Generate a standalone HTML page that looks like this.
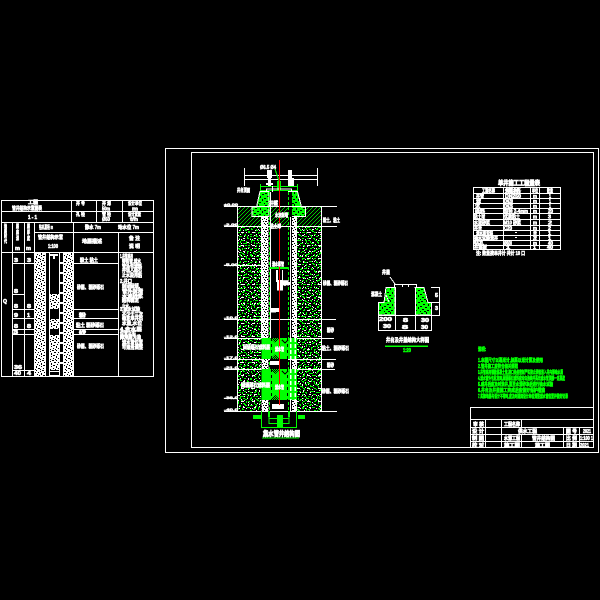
<!DOCTYPE html>
<html><head><meta charset="utf-8"><style>
html,body{margin:0;padding:0;background:#000;width:600px;height:600px;overflow:hidden}
svg{display:block}
text{font-family:"Liberation Sans","Noto Sans CJK SC",sans-serif;font-weight:700;font-size:5px;fill:#fff;stroke:#fff;stroke-width:.6}
.g text,text.g{fill:#0f0;stroke:#0f0;stroke-width:.6}
.lv text{font-size:4px;stroke-width:.5}
.l{stroke:#fff;stroke-width:1;fill:none}
.n{stroke:#0f0;stroke-width:1;fill:none}
</style></head><body>
<svg width="600" height="600" viewBox="0 0 600 600" xmlns="http://www.w3.org/2000/svg" shape-rendering="crispEdges">
<defs>
<pattern id="soil" width="16" height="16" patternUnits="userSpaceOnUse">
<rect width="16" height="16" fill="#000"/>
<path fill="#0f0" d="M1 0h2v1H1zM6 1h1v2H6zM11 0h2v1h-2zM3 3h2v1H3zM9 3h1v1H9zM14 2h1v2h-1zM0 5h1v2H0zM5 5h2v1H5zM12 5h1v1h-1zM2 8h1v2H2zM8 7h2v1H8zM14 8h2v1h-2zM5 10h1v1H5zM10 10h2v1h-2zM0 12h2v1H0zM7 12h1v2H7zM13 12h1v1h-1zM3 14h2v1H3zM10 14h1v2h-1zM15 14h1v1h-1z"/>
<path fill="#fff" d="M4 0h1v1H4zM14 0h1v1h-1zM8 2h1v1H8zM1 3h1v1H1zM11 4h1v1h-1zM3 6h1v1H3zM8 5h1v1H8zM15 6h1v1h-1zM6 8h1v1H6zM12 8h1v1h-1zM0 10h1v1H0zM8 11h1v1H8zM4 12h1v1H4zM14 11h1v1h-1zM12 15h1v1h-1zM1 15h1v1H1z"/>
</pattern>
<pattern id="soil2" width="11" height="13" patternUnits="userSpaceOnUse">
<path fill="#0f0" d="M2 1h2v1H2zM8 2h2v1H8zM5 4h2v1H5zM0 6h2v1H0zM9 7h1v2H9zM3 9h2v1H3zM6 11h2v1H6z"/>
<path fill="#fff" d="M6 1h1v1H6zM1 4h2v1H1zM8 5h1v1H8zM5 8h1v1H5zM0 11h2v1H0zM10 11h1v1h-1z"/>
</pattern>
<pattern id="conc" width="12" height="12" patternUnits="userSpaceOnUse">
<rect width="12" height="12" fill="#0f0"/>
<path fill="#000" d="M1 1h2v1H1zM6 0h1v2H6zM10 2h2v1h-2zM3 4h2v1H3zM8 4h1v2H8zM0 6h2v1H0zM5 7h2v1H5zM10 7h1v2h-1zM2 9h2v1H2zM7 10h2v1H7zM0 11h1v1H0zM4 11h2v1H4z"/>
</pattern>
<pattern id="grav" width="8" height="8" patternUnits="userSpaceOnUse">
<rect width="8" height="8" fill="#fff"/>
<path fill="#000" d="M1 0h1v1H1zM4 1h2v1H4zM0 2h1v1H0zM2 3h1v1H2zM6 3h1v1H6zM4 4h1v1H4zM1 5h2v1H1zM7 5h1v1H7zM5 6h1v1H5zM0 7h1v1H0zM3 7h1v1H3z"/>
</pattern>
<pattern id="tnoise" width="10" height="10" patternUnits="userSpaceOnUse">
<rect width="10" height="10" fill="#fff"/>
<path fill="#000" d="M2 0h2v1H2zM6 0h1v1H6zM0 1h1v1H0zM4 2h2v1H4zM8 2h1v1H8zM1 3h1v2H1zM7 4h1v1H7zM3 5h2v1H3zM9 5h1v1H9zM1 6h1v1H1zM6 6h1v2H6zM3 8h1v1H3zM8 8h2v1H8zM0 9h1v1H0zM5 9h1v1H5z"/>
</pattern>
<pattern id="hatch" width="4" height="4" patternUnits="userSpaceOnUse">
<rect width="4" height="4" fill="#000"/>
<path fill="#0c0" d="M3 0h1v1H3zM2 1h1v1H2zM1 2h1v1H1zM0 3h1v1H0z"/>
</pattern>
<pattern id="check" width="2" height="2" patternUnits="userSpaceOnUse">
<rect width="2" height="2" fill="#0f0"/><rect width="1" height="1" fill="#000"/><rect x="1" y="1" width="1" height="1" fill="#000"/>
</pattern>
</defs>
<rect width="600" height="600" fill="#000"/>

<!-- frames -->
<rect class="l" x="165.5" y="148.5" width="433" height="304"/>
<rect class="l" x="191.5" y="152.5" width="402" height="295"/>

<!-- left table -->
<rect x="34" y="252" width="11" height="124" fill="url(#tnoise)"/>
<rect x="63" y="252" width="10" height="124" fill="url(#tnoise)"/>
<rect x="49" y="294" width="10" height="15" fill="url(#tnoise)"/>
<rect x="49" y="319" width="10" height="10" fill="url(#tnoise)"/>
<rect x="49" y="335" width="10" height="35" fill="url(#tnoise)"/>
<rect class="l" x="1.5" y="200.5" width="152" height="176"/>
<path class="l" d="M1.5 211.5H153.500M1.5 222.5H153.500M1.5 252.5H153.500M73.5 232.5H153.500M34.5 232.500H73.500M71.5 200.5V222.500M96.5 200.5V222.500M122.5 200.5V222.500M12.5 222.5V376.500M24.5 222.5V376.500M34.5 222.5V376.500M73.5 222.5V376.500M118.5 232.5V376.500M12.5 263.5H34.500M12.5 294.5H24.500M12.5 309.5H34.500M12.5 318.5H34.500M12.5 329.5H34.500M12.5 334.5H34.500M12.5 370.5H34.500M73.5 263.5H118.500M73.5 309.5H118.500M73.5 318.5H118.500M73.5 329.5H118.500M73.5 334.5H118.500M45.5 252.5V376.500M49.5 252.5V376.500M59.5 252.5V376.500M63.5 252.5V376.500"/>
<g>
<text x="28" y="204" textLength="10" lengthAdjust="spacingAndGlyphs">工程</text>
<text x="12" y="210" textLength="30" lengthAdjust="spacingAndGlyphs">管井结构示意图表</text>
<text x="28" y="219" textLength="9" lengthAdjust="spacingAndGlyphs">1 - 1</text>
<text x="76" y="205" textLength="9" lengthAdjust="spacingAndGlyphs">井 号</text>
<text x="102" y="205" textLength="9" lengthAdjust="spacingAndGlyphs">井 深</text>
<text x="102" y="210.500" textLength="8" lengthAdjust="spacingAndGlyphs">50m</text>
<text x="128" y="205" textLength="14" lengthAdjust="spacingAndGlyphs">设计单位</text>
<text x="132" y="210.500" textLength="6" lengthAdjust="spacingAndGlyphs">m</text>
<text x="76" y="216" textLength="9" lengthAdjust="spacingAndGlyphs">孔 径</text>
<text x="102" y="216" textLength="9" lengthAdjust="spacingAndGlyphs">管 径</text>
<text x="102" y="221" textLength="8" lengthAdjust="spacingAndGlyphs">Ø50</text>
<text x="128" y="216" textLength="13" lengthAdjust="spacingAndGlyphs">设计流量</text>
<text x="130" y="221" textLength="8" lengthAdjust="spacingAndGlyphs">t/h</text>
<text x="39" y="229" textLength="14" lengthAdjust="spacingAndGlyphs">钻孔直径 m</text>
<text x="38" y="239" textLength="25" lengthAdjust="spacingAndGlyphs">管井结构示意</text>
<text x="48" y="248" textLength="10" lengthAdjust="spacingAndGlyphs">1:100</text>
<text x="85" y="229" textLength="16" lengthAdjust="spacingAndGlyphs">静水 7m</text>
<text x="118" y="229" textLength="21" lengthAdjust="spacingAndGlyphs">动水位 7m</text>
<text x="82" y="243" textLength="20" lengthAdjust="spacingAndGlyphs">地层描述</text>
<text x="129" y="240" textLength="11" lengthAdjust="spacingAndGlyphs">备 注</text>
<text x="129" y="248" textLength="11" lengthAdjust="spacingAndGlyphs">说 明</text>
<text x="4" y="228" textLength="3" lengthAdjust="spacingAndGlyphs">地</text><text x="4" y="233" textLength="3" lengthAdjust="spacingAndGlyphs">层</text><text x="4" y="238" textLength="3" lengthAdjust="spacingAndGlyphs">时</text><text x="4" y="243" textLength="3" lengthAdjust="spacingAndGlyphs">代</text>
<text x="16" y="228" textLength="3" lengthAdjust="spacingAndGlyphs">层</text><text x="16" y="234" textLength="3" lengthAdjust="spacingAndGlyphs">底</text><text x="16" y="240" textLength="3" lengthAdjust="spacingAndGlyphs">深</text><text x="15" y="250" textLength="5" lengthAdjust="spacingAndGlyphs">m</text>
<text x="27" y="228" textLength="3" lengthAdjust="spacingAndGlyphs">层</text><text x="27" y="234" textLength="3" lengthAdjust="spacingAndGlyphs">厚</text><text x="27" y="240" textLength="3" lengthAdjust="spacingAndGlyphs">度</text><text x="26" y="250" textLength="5" lengthAdjust="spacingAndGlyphs">m</text>
<text x="3" y="303" textLength="4" lengthAdjust="spacingAndGlyphs">Q</text>
<text x="14" y="262" textLength="4" lengthAdjust="spacingAndGlyphs">3</text><text x="27" y="262" textLength="4" lengthAdjust="spacingAndGlyphs">3</text>
<text x="14" y="293" textLength="4" lengthAdjust="spacingAndGlyphs">8</text><text x="14" y="308" textLength="4" lengthAdjust="spacingAndGlyphs">8</text><text x="27" y="308" textLength="4" lengthAdjust="spacingAndGlyphs">8</text>
<text x="14" y="317" textLength="4" lengthAdjust="spacingAndGlyphs">9</text><text x="27" y="317" textLength="3" lengthAdjust="spacingAndGlyphs">1</text>
<text x="14" y="328" textLength="4" lengthAdjust="spacingAndGlyphs">8</text><text x="27" y="328" textLength="4" lengthAdjust="spacingAndGlyphs">8</text>
<text x="13" y="334" textLength="5" lengthAdjust="spacingAndGlyphs">3</text>
<text x="14" y="369" textLength="8" lengthAdjust="spacingAndGlyphs">36</text>
<text x="14" y="375" textLength="7" lengthAdjust="spacingAndGlyphs">40</text><text x="27" y="375" textLength="4" lengthAdjust="spacingAndGlyphs">4</text>
<text x="80" y="262" textLength="18" lengthAdjust="spacingAndGlyphs">粉土 粘土</text>
<text x="77" y="289" textLength="27" lengthAdjust="spacingAndGlyphs">砂层、粗砂砾石</text>
<text x="79" y="317" textLength="7" lengthAdjust="spacingAndGlyphs">粉</text>
<text x="76" y="327" textLength="28" lengthAdjust="spacingAndGlyphs">粘土 粗砂砾石</text>
<text x="79" y="334" textLength="7" lengthAdjust="spacingAndGlyphs">砂</text>
<text x="77" y="348" textLength="27" lengthAdjust="spacingAndGlyphs">砂层、粗砂砾石</text>
<text x="120" y="258" textLength="13" lengthAdjust="spacingAndGlyphs">1.井管采用</text>
<text x="122" y="263" textLength="19" lengthAdjust="spacingAndGlyphs">铸铁管,滤水</text>
<text x="122" y="268" textLength="20" lengthAdjust="spacingAndGlyphs">管外包滤料</text>
<text x="122" y="272" textLength="20" lengthAdjust="spacingAndGlyphs">并填入砾石</text>
<text x="122" y="277" textLength="20" lengthAdjust="spacingAndGlyphs">止水段用粘</text>
<text x="120" y="283" textLength="12" lengthAdjust="spacingAndGlyphs">2.井口</text>
<text x="122" y="288" textLength="18" lengthAdjust="spacingAndGlyphs">封闭回填,</text>
<text x="122" y="293" textLength="21" lengthAdjust="spacingAndGlyphs">管外封堵</text>
<text x="122" y="298" textLength="21" lengthAdjust="spacingAndGlyphs">水泥砂浆</text>
<text x="122" y="302" textLength="17" lengthAdjust="spacingAndGlyphs">结构稳定</text>
<text x="122" y="308" textLength="7" lengthAdjust="spacingAndGlyphs">止水</text>
<text x="120" y="311" textLength="20" lengthAdjust="spacingAndGlyphs">3.抽水试验</text>
<text x="122" y="316" textLength="21" lengthAdjust="spacingAndGlyphs">不少于三次</text>
<text x="122" y="320" textLength="21" lengthAdjust="spacingAndGlyphs">确定单井出</text>
<text x="122" y="325" textLength="20" lengthAdjust="spacingAndGlyphs">水量,水位</text>
<text x="120" y="331" textLength="22" lengthAdjust="spacingAndGlyphs">4.含水层</text>
<text x="120" y="335" textLength="16" lengthAdjust="spacingAndGlyphs">位置以实</text>
<text x="120" y="339" textLength="21" lengthAdjust="spacingAndGlyphs">际地层为准</text>
<text x="122" y="344" textLength="21" lengthAdjust="spacingAndGlyphs">滤水管位置</text>
<text x="122" y="349" textLength="21" lengthAdjust="spacingAndGlyphs">可适当调整</text>
</g>
<!-- left table well inner -->
<rect x="50" y="254" width="8" height="2" fill="#fff"/><rect x="53" y="256" width="2" height="3" fill="#fff"/>
<path d="M60 262h3v2h-3zM60 272h3v2h-3zM60 282h3v2h-3zM60 292h3v2h-3zM60 302h3v2h-3zM60 312h3v2h-3zM60 322h3v2h-3zM60 332h3v2h-3zM60 342h3v2h-3zM60 352h3v2h-3zM60 362h3v2h-3z" fill="#fff"/>
<rect x="49.500" y="371.500" width="10" height="4" fill="#000" stroke="#fff"/>

<!-- MAIN WELL -->
<rect x="238" y="207" width="83" height="19" fill="url(#hatch)"/>
<rect x="238" y="227" width="23" height="184" fill="url(#soil)"/>
<rect x="297" y="227" width="24" height="184" fill="url(#soil)"/>
<rect x="238" y="227" width="23" height="184" fill="url(#soil2)"/>
<rect x="297" y="227" width="24" height="184" fill="url(#soil2)"/>
<path d="M260 191.500H269V216.500H252V207H256.500Z" fill="url(#conc)" stroke="#fff"/>
<path d="M297.500 191.500H288.500V216.500H305.500V207H301.500Z" fill="url(#conc)" stroke="#fff"/>
<rect x="261.500" y="217" width="7" height="194" fill="url(#grav)"/>
<rect x="292" y="217" width="5" height="194" fill="url(#grav)"/>
<rect x="288" y="192" width="4" height="219" fill="#000"/>
<path d="M269.500 192V411M288.500 192V411" stroke="#0f0" stroke-dasharray="3 2"/>
<path d="M290.500 217V411M296.500 217V411M261.500 217V338M270.500 192V338" class="l"/>
<path d="M237.500 207V411M321.500 207V411M224 206.500H337M224 226.500H337M224 265.500H261M224 319.500H336M224 338.500H334M224 359.500H336M224 369.500H335M224 398.500H238M224 411.500H337" class="l"/>
<path class="l" d="M244.500 168V186M317.500 168V186M244 175.500H317M244 179.500H317"/>
<rect x="267" y="170" width="5" height="8" fill="#fff"/><rect x="268" y="178" width="3" height="8" fill="#fff"/>
<rect x="288" y="170" width="4" height="8" fill="#fff"/><rect x="288" y="178" width="6" height="8" fill="#fff"/>
<path class="n" d="M260.500 184V191M297.500 184V191M260.500 186.500H297.500M260.500 190.500H297.500M275 169L280 184"/>
<rect x="277" y="181" width="4" height="10" fill="#0f0"/>
<path class="l" d="M266.500 191.500V189H291.500V191.500M272.500 186V192"/>
<rect x="266" y="183" width="7" height="2" fill="#fff"/>
<rect x="269" y="267" width="20" height="2" fill="#0f0"/>
<rect x="276" y="270" width="2" height="12" fill="#fff"/>
<rect x="277" y="280" width="5" height="10" fill="#fff"/>
<path class="l" d="M277.500 270V290H282.500V270"/>
<rect x="281" y="282" width="10" height="3" fill="#fff"/>
<rect x="270" y="308" width="9" height="4" fill="#fff"/>
<path class="l" d="M270.500 312H276"/>
<rect x="261.500" y="338" width="35.500" height="21" fill="#0f0"/>
<rect x="261.500" y="369" width="35.500" height="31" fill="#0f0"/>
<rect x="270" y="359" width="18" height="10" fill="#000"/>
<path d="M270 338h10l-5 5zM270 369h10l-5 5z" fill="url(#check)"/>
<path d="M270 359h10l-5-5zM270 400h10l-5-5z" fill="url(#check)"/>
<path d="M282 340l3 3 3-3M282 371l3 3 3-3" stroke="#000" fill="none"/>
<path d="M271.500 338V359M271.500 369V400M287.500 338V359M287.500 369V400" stroke="#000" stroke-dasharray="3 3"/>
<path d="M290.500 338V359M290.500 369V400M295 338V359M295 369V400" stroke="#fff" stroke-width="1.500" stroke-dasharray="4 2"/>
<rect x="261.500" y="359" width="7" height="10" fill="url(#grav)"/>
<rect x="270" y="361" width="9" height="4" fill="#fff"/>
<path class="n" d="M261.500 411V428M296.500 411V428M261.500 427.500H296.500M269.500 418.500H289.500M269.500 423.500H289.500M269 412V424M289 412V424"/>
<rect x="253" y="415" width="8" height="4" fill="#0f0"/><rect x="298" y="415" width="7" height="4" fill="#0f0"/>
<rect x="277" y="415" width="6" height="13" fill="#0f0"/>
<rect x="268" y="411" width="2" height="6" fill="#0f0"/><rect x="288" y="411" width="2" height="6" fill="#0f0"/>
<rect x="272" y="404" width="12" height="5" fill="#fff"/>
<rect x="279" y="160" width="1" height="245" fill="#f00"/>
<g class="lv">
<text x="224" y="206" textLength="14" lengthAdjust="spacingAndGlyphs">±0.00</text>
<text x="224" y="226" textLength="14" lengthAdjust="spacingAndGlyphs">-2.00</text>
<text x="224" y="266" textLength="14" lengthAdjust="spacingAndGlyphs">-5.00</text>
<text x="224" y="319" textLength="14" lengthAdjust="spacingAndGlyphs">-10.0</text>
<text x="224" y="338" textLength="14" lengthAdjust="spacingAndGlyphs">-12.0</text>
<text x="224" y="359" textLength="14" lengthAdjust="spacingAndGlyphs">-17.0</text>
<text x="224" y="369" textLength="14" lengthAdjust="spacingAndGlyphs">-21.0</text>
<text x="224" y="399" textLength="14" lengthAdjust="spacingAndGlyphs">-36.0</text>
<text x="224" y="411" textLength="14" lengthAdjust="spacingAndGlyphs">-40.0</text>
</g>
<g>
<text x="260" y="169" textLength="16" lengthAdjust="spacingAndGlyphs">Ø6.5 Ø4</text>
<text x="237" y="192" textLength="13" lengthAdjust="spacingAndGlyphs">井台顶面</text>
<text x="323" y="222" textLength="17" lengthAdjust="spacingAndGlyphs">粉土、粘土</text>
<text x="323" y="285" textLength="25" lengthAdjust="spacingAndGlyphs">砂层、粗砂砾石</text>
<text x="327" y="332" textLength="7" lengthAdjust="spacingAndGlyphs">粉砂</text>
<text x="322" y="350" textLength="27" lengthAdjust="spacingAndGlyphs">粘土、粗砂砾石</text>
<text x="327" y="367" textLength="7" lengthAdjust="spacingAndGlyphs">粉砂</text>
<text x="322" y="393" textLength="27" lengthAdjust="spacingAndGlyphs">砂层、粗砂砾石</text>
<text x="269" y="205" textLength="9" lengthAdjust="spacingAndGlyphs">井壁</text>
<text x="275" y="217" textLength="13" lengthAdjust="spacingAndGlyphs">水泥封堵</text>
<text x="270" y="228" textLength="11" lengthAdjust="spacingAndGlyphs">粘土球</text>
<text x="272" y="266" textLength="12" lengthAdjust="spacingAndGlyphs">潜水泵管</text>
<text x="282" y="285" textLength="7" lengthAdjust="spacingAndGlyphs">泵</text>
<text x="243" y="349" textLength="27" lengthAdjust="spacingAndGlyphs">回填砾石滤料层</text>
<text x="241" y="387" textLength="29" lengthAdjust="spacingAndGlyphs">回填砾石滤料层</text>
<text x="275" y="351" textLength="9" lengthAdjust="spacingAndGlyphs">滤水管</text>
<text x="275" y="389" textLength="9" lengthAdjust="spacingAndGlyphs">滤水管</text>
<text x="263" y="436" style="font-size:7px;stroke-width:.8" textLength="37" lengthAdjust="spacingAndGlyphs">集水管井结构图</text>
</g>
<rect x="262" y="437.500" width="37" height="1" fill="#0f0"/>

<!-- small section -->
<path d="M386 287.500H395V315H378.500V302.500H384Z" fill="url(#conc)" stroke="#fff"/>
<path d="M424 287.500H415V315H431.500V302.500H428Z" fill="url(#conc)" stroke="#fff"/>
<rect x="396" y="288" width="19" height="27" fill="#000"/>
<path class="l" d="M395.500 287V315M415.500 287V315M394.500 287.500V284.500H416.500V287.500M402.500 284V287M408.500 284V287M378.500 315.500H432M378.500 315V331M395.500 315V331M415.500 315V331M431.500 315V331M378.500 330.500H432M431 287.500H440M431 302.500H440M431 315.500H440M439.500 287V316M390 277L395 284M386 295L389 302"/>
<g>
<text x="382" y="274" textLength="8" lengthAdjust="spacingAndGlyphs">井盖</text>
<text x="371" y="296" textLength="11" lengthAdjust="spacingAndGlyphs">混凝土</text>
<text x="379" y="321" textLength="13" lengthAdjust="spacingAndGlyphs">200</text>
<text x="383" y="328" textLength="8" lengthAdjust="spacingAndGlyphs">30</text>
<text x="403" y="322" textLength="5" lengthAdjust="spacingAndGlyphs">8</text>
<text x="402" y="329" textLength="6" lengthAdjust="spacingAndGlyphs">8</text>
<text x="421" y="322" textLength="8" lengthAdjust="spacingAndGlyphs">30</text>
<text x="421" y="329" textLength="7" lengthAdjust="spacingAndGlyphs">30</text>
<text x="435" y="297" textLength="3" lengthAdjust="spacingAndGlyphs">5</text>
<text x="435" y="310" textLength="3" lengthAdjust="spacingAndGlyphs">3</text>
<text x="386" y="342" style="font-size:5.500px" textLength="43" lengthAdjust="spacingAndGlyphs">井台及井盖结构大样图</text>
</g>
<rect x="385" y="345.500" width="43" height="1.500" fill="#0f0"/>
<text class="g" x="403" y="352" textLength="8" lengthAdjust="spacingAndGlyphs">1:20</text>

<!-- quantity table -->
<text x="498" y="185" style="font-size:6.500px;stroke-width:.8" textLength="42" lengthAdjust="spacingAndGlyphs">单井施工工程量表</text>
<rect class="l" x="473.500" y="187.500" width="87" height="62"/>
<path class="l" d="M503.500 187.500V249.500M530.500 187.500V249.500M539.500 187.500V249.500M473.500 193.500H560.500M473.500 198.500H560.500M473.500 203.500H560.500M473.500 208.500H560.500M473.500 213.500H560.500M473.500 219.500H560.500M473.500 225.500H560.500M473.500 230.500H560.500M473.500 235.500H560.500M473.500 240.500H560.500M473.500 245.500H560.500"/>
<g>
<text x="482" y="192.500" textLength="13" lengthAdjust="spacingAndGlyphs">工程名称</text>
<text x="505" y="192.500" textLength="16" lengthAdjust="spacingAndGlyphs">规格</text>
<text x="532" y="192.500" textLength="6" lengthAdjust="spacingAndGlyphs">单位</text>
<text x="547" y="192.500" textLength="6" lengthAdjust="spacingAndGlyphs">数量</text>
<text x="476" y="198" textLength="8" lengthAdjust="spacingAndGlyphs">井管</text><text x="505" y="198" textLength="16" lengthAdjust="spacingAndGlyphs">DN250</text><text x="533" y="198" textLength="4" lengthAdjust="spacingAndGlyphs">m</text><text x="549" y="198" textLength="2" lengthAdjust="spacingAndGlyphs">1</text>
<text x="476" y="203" textLength="5" lengthAdjust="spacingAndGlyphs">滤</text><text x="504" y="203" textLength="9" lengthAdjust="spacingAndGlyphs">DN20</text><text x="533" y="203" textLength="4" lengthAdjust="spacingAndGlyphs">m</text><text x="549" y="203" textLength="2" lengthAdjust="spacingAndGlyphs">1</text>
<text x="475" y="208" textLength="5" lengthAdjust="spacingAndGlyphs">沉</text><text x="504" y="208" textLength="9" lengthAdjust="spacingAndGlyphs">DN25</text><text x="533" y="208" textLength="4" lengthAdjust="spacingAndGlyphs">m</text><text x="549" y="208" textLength="2" lengthAdjust="spacingAndGlyphs">1</text>
<text x="475" y="213" textLength="10" lengthAdjust="spacingAndGlyphs">砾料</text><text x="504" y="213" textLength="24" lengthAdjust="spacingAndGlyphs">粒径 2-4mm</text><text x="533" y="213" textLength="4" lengthAdjust="spacingAndGlyphs">m</text><text x="548" y="213" textLength="5" lengthAdjust="spacingAndGlyphs">20</text>
<text x="474" y="218.500" textLength="11" lengthAdjust="spacingAndGlyphs">粘土球</text><text x="504" y="218.500" textLength="16" lengthAdjust="spacingAndGlyphs">优质粘土</text><text x="533" y="218.500" textLength="4" lengthAdjust="spacingAndGlyphs">m</text><text x="548" y="218.500" textLength="3" lengthAdjust="spacingAndGlyphs">3</text>
<text x="474" y="224.500" textLength="16" lengthAdjust="spacingAndGlyphs">水泥砂浆</text><text x="504" y="224.500" textLength="17" lengthAdjust="spacingAndGlyphs">M10 砂浆</text><text x="533" y="224.500" textLength="4" lengthAdjust="spacingAndGlyphs">m</text><text x="548" y="224.500" textLength="4" lengthAdjust="spacingAndGlyphs">2</text>
<text x="474" y="229.800" textLength="8" lengthAdjust="spacingAndGlyphs">井台</text><text x="504" y="229.800" textLength="8" lengthAdjust="spacingAndGlyphs">C20</text><text x="533" y="229.800" textLength="4" lengthAdjust="spacingAndGlyphs">m</text><text x="548" y="229.800" textLength="3" lengthAdjust="spacingAndGlyphs">2</text>
<text x="476" y="235" textLength="17" lengthAdjust="spacingAndGlyphs">潜水泵安装</text><rect x="515" y="232" width="2" height="1" fill="#fff"/><text x="533" y="235" textLength="4" lengthAdjust="spacingAndGlyphs">台</text><text x="548" y="235" textLength="3" lengthAdjust="spacingAndGlyphs">1</text>
<text x="474" y="240" textLength="24" lengthAdjust="spacingAndGlyphs">抽水试验洗井</text><rect x="515" y="237" width="2" height="1" fill="#fff"/><text x="533" y="240" textLength="4" lengthAdjust="spacingAndGlyphs">次</text><text x="548" y="240" textLength="3" lengthAdjust="spacingAndGlyphs">1</text>
<text x="474" y="245" textLength="10" lengthAdjust="spacingAndGlyphs">钻孔</text><text x="504" y="245" textLength="8" lengthAdjust="spacingAndGlyphs">Ø600</text><text x="533" y="245" textLength="4" lengthAdjust="spacingAndGlyphs">m</text><text x="548" y="245" textLength="5" lengthAdjust="spacingAndGlyphs">40</text>
<text x="474" y="249" textLength="13" lengthAdjust="spacingAndGlyphs">井盖板</text><text x="506" y="249" textLength="4" lengthAdjust="spacingAndGlyphs">1</text><text x="533" y="249" textLength="3" lengthAdjust="spacingAndGlyphs">1</text><text x="547" y="249" textLength="6" lengthAdjust="spacingAndGlyphs">40</text>
<text x="476" y="255" textLength="49" lengthAdjust="spacingAndGlyphs">注: 数量按单井计 共计 10 口</text>
</g>

<!-- green notes -->
<g class="g">
<text x="478" y="351" textLength="8" lengthAdjust="spacingAndGlyphs">说明:</text>
<text x="478" y="362" textLength="65" lengthAdjust="spacingAndGlyphs">1.本图尺寸以毫米计,标高以米计算及使用</text>
<text x="478" y="368" textLength="40" lengthAdjust="spacingAndGlyphs">2.管井施工应符合相关规范</text>
<text x="478" y="374" textLength="85" lengthAdjust="spacingAndGlyphs">3.井管采用钢筋混凝土管,接口处应密封严实防止砂粒进入井内影响水质</text>
<text x="478" y="380" textLength="87" lengthAdjust="spacingAndGlyphs">4.滤水管外包尼龙网,回填砾石滤料应均匀连续并高出滤水管顶部一定高度</text>
<text x="478" y="386" textLength="75" lengthAdjust="spacingAndGlyphs">5.成井后应及时洗井,直至水清砂净后进行抽水试验</text>
<text x="478" y="392" textLength="67" lengthAdjust="spacingAndGlyphs">6.井台及井盖施工完成后应做好保护措施</text>
<text x="478" y="398" textLength="90" lengthAdjust="spacingAndGlyphs">7.实际地层与设计不符时,应及时通知设计单位调整滤水管位置并做好记录</text>
</g>

<!-- title block -->
<rect class="l" x="470.500" y="407.500" width="123" height="40"/>
<path class="l" d="M470.500 419.500H593.500M470.500 427.500H593.500M470.500 434.500H593.500M470.500 441.500H593.500M485.500 419.500V447.500M501.500 419.500V447.500M521.500 419.500V427.500M521.500 434.500V447.500M563.500 427.500V447.500M579.500 427.500V447.500"/>
<g>
<text x="473" y="426" textLength="11" lengthAdjust="spacingAndGlyphs">审 核</text>
<text x="504" y="426" textLength="16" lengthAdjust="spacingAndGlyphs">工程名称</text>
<text x="472" y="433" textLength="12" lengthAdjust="spacingAndGlyphs">设 计</text>
<text x="518" y="433" textLength="19" lengthAdjust="spacingAndGlyphs">供水工程</text>
<text x="566" y="433" textLength="11" lengthAdjust="spacingAndGlyphs">图 号</text>
<text x="583" y="433" textLength="8" lengthAdjust="spacingAndGlyphs">2021</text>
<text x="472" y="440" textLength="12" lengthAdjust="spacingAndGlyphs">制 图</text>
<text x="504" y="440" textLength="16" lengthAdjust="spacingAndGlyphs">水源工程</text>
<text x="532" y="440" textLength="23" lengthAdjust="spacingAndGlyphs">管井结构图</text>
<text x="566" y="440" textLength="11" lengthAdjust="spacingAndGlyphs">比 例</text>
<text x="580" y="440" textLength="13" lengthAdjust="spacingAndGlyphs">1:100 1</text>
<text x="472" y="447" textLength="12" lengthAdjust="spacingAndGlyphs">校 对</text>
<text x="504" y="447" textLength="16" lengthAdjust="spacingAndGlyphs">施工图</text>
<text x="535" y="447" textLength="15" lengthAdjust="spacingAndGlyphs">施工图</text>
<text x="566" y="447" textLength="11" lengthAdjust="spacingAndGlyphs">日 期</text>
<text x="580" y="447" textLength="9" lengthAdjust="spacingAndGlyphs">2021</text>
</g>
</svg>
</body></html>
